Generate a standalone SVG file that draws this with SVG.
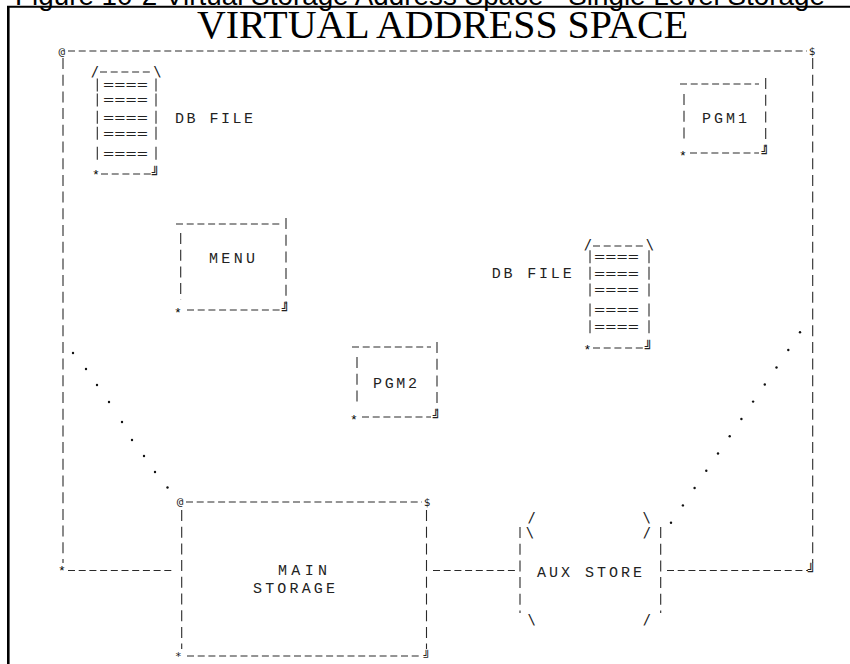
<svg xmlns="http://www.w3.org/2000/svg" width="850" height="664" viewBox="0 0 850 664">
<style>
.hd{stroke:#2a2a2a;stroke-width:1.1;stroke-dasharray:7 3.7;fill:none}
.vd{stroke:#2a2a2a;stroke-width:1.1;stroke-dasharray:11 5.7;fill:none}
.lbl{font-family:"Liberation Mono","DejaVu Sans Mono",monospace;font-size:15px;fill:#222}
.eq{font-family:"Liberation Mono","DejaVu Sans Mono",monospace;font-size:13px;fill:#222}
.g{font-family:"DejaVu Sans Mono",monospace;font-size:11px;fill:#222;text-anchor:middle}
.st{font-family:"Liberation Mono","DejaVu Sans Mono",monospace;font-size:13px;fill:#000;text-anchor:middle}
.c{font-family:"DejaVu Sans Mono",monospace;font-size:13px;fill:#222;text-anchor:middle}
.s{font-family:"DejaVu Sans Mono",monospace;font-size:14px;fill:#222;text-anchor:middle}
.bar{stroke:#2a2a2a;stroke-width:1.1}
.dot{fill:#111}
</style>
<rect width="850" height="664" fill="#fff"/>
<text x="15" y="4.5" font-family="Liberation Sans, Arial, sans-serif" font-size="27.5" textLength="810" lengthAdjust="spacingAndGlyphs" fill="#000">Figure 10-2 Virtual Storage Address Space - Single Level Storage</text>
<line x1="7" y1="6.8" x2="850" y2="6.8" stroke="#000" stroke-width="2"/>
<line x1="8.3" y1="6" x2="8.3" y2="664" stroke="#000" stroke-width="2.6"/>
<text x="197" y="38" font-family="Liberation Serif, Times New Roman, serif" font-size="39.5" textLength="491" lengthAdjust="spacingAndGlyphs" fill="#000">VIRTUAL ADDRESS SPACE</text>

<g id="virtual-address-space">
<text class="g" x="61.7" y="54.5">@</text>
<line class="hd" x1="68" y1="51" x2="807" y2="51"/>
<text class="g" x="812" y="55">$</text>
<line class="vd" x1="63" y1="58" x2="63" y2="563"/>
<line class="vd" x1="812.7" y1="58" x2="812.7" y2="563"/>
<text class="st" x="62" y="574.5">*</text>
<line class="hd" x1="68" y1="570.5" x2="174" y2="570.5"/>
<line class="hd" x1="667" y1="570.5" x2="808" y2="570.5"/>
<text class="c" x="812" y="574.5">╝</text>
</g>

<g id="db-file-1">
<text class="s" x="95" y="75.8">/</text>
<line class="hd" x1="100" y1="72" x2="153" y2="72"/>
<text class="s" x="157.5" y="75.8">\</text>
<line class="bar" x1="97.3" y1="78.5" x2="97.3" y2="91.5"/><line class="bar" x1="156" y1="78.5" x2="156" y2="91.5"/>
<line class="bar" x1="97.3" y1="93.5" x2="97.3" y2="106.5"/><line class="bar" x1="156" y1="93.5" x2="156" y2="106.5"/>
<line class="bar" x1="97.3" y1="110.8" x2="97.3" y2="123.8"/><line class="bar" x1="156" y1="110.8" x2="156" y2="123.8"/>
<line class="bar" x1="97.3" y1="126.8" x2="97.3" y2="139.8"/><line class="bar" x1="156" y1="126.8" x2="156" y2="139.8"/>
<line class="bar" x1="97.3" y1="146.8" x2="97.3" y2="159.8"/><line class="bar" x1="156" y1="146.8" x2="156" y2="159.8"/>
<text class="eq" x="103" y="89.3" textLength="45" lengthAdjust="spacingAndGlyphs">====</text>
<text class="eq" x="103" y="104.3" textLength="45" lengthAdjust="spacingAndGlyphs">====</text>
<text class="eq" x="103" y="121.6" textLength="45" lengthAdjust="spacingAndGlyphs">====</text>
<text class="eq" x="103" y="137.6" textLength="45" lengthAdjust="spacingAndGlyphs">====</text>
<text class="eq" x="103" y="157.6" textLength="45" lengthAdjust="spacingAndGlyphs">====</text>
<text class="st" x="96" y="179">*</text>
<line class="hd" x1="101" y1="174" x2="152" y2="174"/>
<text class="c" x="156" y="178">╝</text>
<text class="lbl" x="175" y="123" textLength="78" lengthAdjust="spacing">DB FILE</text>
</g>

<g id="pgm1">
<line class="hd" x1="680" y1="84" x2="759" y2="84"/>
<line class="vd" x1="765.7" y1="78" x2="765.7" y2="147"/>
<line class="vd" x1="684" y1="94" x2="684" y2="142"/>
<text class="lbl" x="702" y="123" textLength="45" lengthAdjust="spacing">PGM1</text>
<text class="st" x="683" y="159.5">*</text>
<line class="hd" x1="690" y1="153" x2="759" y2="153"/>
<text class="c" x="765.7" y="157">╝</text>
</g>

<g id="menu">
<line class="hd" x1="176" y1="224" x2="281" y2="224"/>
<line class="vd" x1="286" y1="218" x2="286" y2="304"/>
<line class="vd" x1="180.7" y1="233" x2="180.7" y2="300"/>
<text class="lbl" x="209" y="263" textLength="46" lengthAdjust="spacing">MENU</text>
<text class="st" x="178" y="316.5">*</text>
<line class="hd" x1="187" y1="310" x2="281" y2="310"/>
<text class="c" x="286" y="314">╝</text>
</g>

<g id="db-file-2">
<text class="lbl" x="491.7" y="278" textLength="80" lengthAdjust="spacing">DB FILE</text>
<text class="s" x="588" y="249.1">/</text>
<line class="hd" x1="593" y1="246" x2="645" y2="246"/>
<text class="s" x="650" y="249.1">\</text>
<line class="bar" x1="590" y1="250.2" x2="590" y2="263.2"/><line class="bar" x1="649" y1="250.2" x2="649" y2="263.2"/>
<line class="bar" x1="590" y1="266.8" x2="590" y2="279.8"/><line class="bar" x1="649" y1="266.8" x2="649" y2="279.8"/>
<line class="bar" x1="590" y1="283.5" x2="590" y2="296.5"/><line class="bar" x1="649" y1="283.5" x2="649" y2="296.5"/>
<line class="bar" x1="590" y1="303.5" x2="590" y2="316.5"/><line class="bar" x1="649" y1="303.5" x2="649" y2="316.5"/>
<line class="bar" x1="590" y1="320.2" x2="590" y2="333.2"/><line class="bar" x1="649" y1="320.2" x2="649" y2="333.2"/>
<text class="eq" x="594" y="261" textLength="45" lengthAdjust="spacingAndGlyphs">====</text>
<text class="eq" x="594" y="277.6" textLength="45" lengthAdjust="spacingAndGlyphs">====</text>
<text class="eq" x="594" y="294.3" textLength="45" lengthAdjust="spacingAndGlyphs">====</text>
<text class="eq" x="594" y="314.3" textLength="45" lengthAdjust="spacingAndGlyphs">====</text>
<text class="eq" x="594" y="331" textLength="45" lengthAdjust="spacingAndGlyphs">====</text>
<text class="st" x="587.3" y="354">*</text>
<line class="hd" x1="593" y1="348" x2="645" y2="348"/>
<text class="c" x="649" y="352">╝</text>
</g>

<g id="pgm2">
<line class="hd" x1="352" y1="347" x2="431" y2="347"/>
<line class="vd" x1="437" y1="342" x2="437" y2="411"/>
<line class="vd" x1="357" y1="357" x2="357" y2="405"/>
<text class="lbl" x="373" y="388" textLength="44" lengthAdjust="spacing">PGM2</text>
<text class="st" x="354" y="423.5">*</text>
<line class="hd" x1="362" y1="417" x2="431" y2="417"/>
<text class="c" x="437" y="421">╝</text>
</g>

<g id="main-storage">
<text class="g" x="180" y="505">@</text>
<line class="hd" x1="186" y1="502" x2="422" y2="502"/>
<text class="g" x="427" y="506">$</text>
<line class="vd" x1="181.7" y1="510" x2="181.7" y2="649"/>
<line class="vd" x1="426.5" y1="510" x2="426.5" y2="649"/>
<text class="lbl" x="278" y="575" textLength="49" lengthAdjust="spacing">MAIN</text>
<text class="lbl" x="253" y="593" textLength="82" lengthAdjust="spacing">STORAGE</text>
<text class="g" x="178.3" y="660" font-size="10">*</text>
<line class="hd" x1="187" y1="656" x2="422" y2="656"/>
<text class="g" x="426.7" y="660" font-size="11">╝</text>
</g>

<g id="aux-store">
<text class="s" x="531.7" y="522">/</text>
<text class="s" x="646.7" y="522">\</text>
<text class="s" x="530" y="537">\</text>
<text class="s" x="647" y="537">/</text>
<line class="vd" x1="520" y1="527" x2="520" y2="613"/>
<line class="vd" x1="660.7" y1="527" x2="660.7" y2="613"/>
<text class="lbl" x="537" y="577" textLength="105" lengthAdjust="spacing">AUX STORE</text>
<text class="s" x="531.7" y="624">\</text>
<text class="s" x="647" y="624">/</text>
</g>

<g id="connectors">
<line class="hd" x1="433" y1="570.5" x2="516" y2="570.5"/>
<g class="dot">
<circle cx="73" cy="353" r="1.2"/><circle cx="86" cy="369" r="1.2"/><circle cx="97" cy="385" r="1.2"/>
<circle cx="109" cy="402" r="1.2"/><circle cx="122" cy="422" r="1.2"/><circle cx="132" cy="440" r="1.2"/>
<circle cx="144" cy="456" r="1.2"/><circle cx="155" cy="472" r="1.2"/><circle cx="167.5" cy="487.5" r="1.2"/>
<circle cx="800" cy="332.3" r="1.2"/><circle cx="788.3" cy="350" r="1.2"/><circle cx="776.5" cy="367.5" r="1.2"/>
<circle cx="764.8" cy="384.5" r="1.2"/><circle cx="753.1" cy="401.6" r="1.2"/><circle cx="741.4" cy="419" r="1.2"/>
<circle cx="729.7" cy="436.2" r="1.2"/><circle cx="718" cy="453.5" r="1.2"/><circle cx="706.3" cy="470.8" r="1.2"/>
<circle cx="694.6" cy="488" r="1.2"/><circle cx="682.9" cy="505.4" r="1.2"/><circle cx="671" cy="522.7" r="1.2"/>
</g>
</g>
</svg>
